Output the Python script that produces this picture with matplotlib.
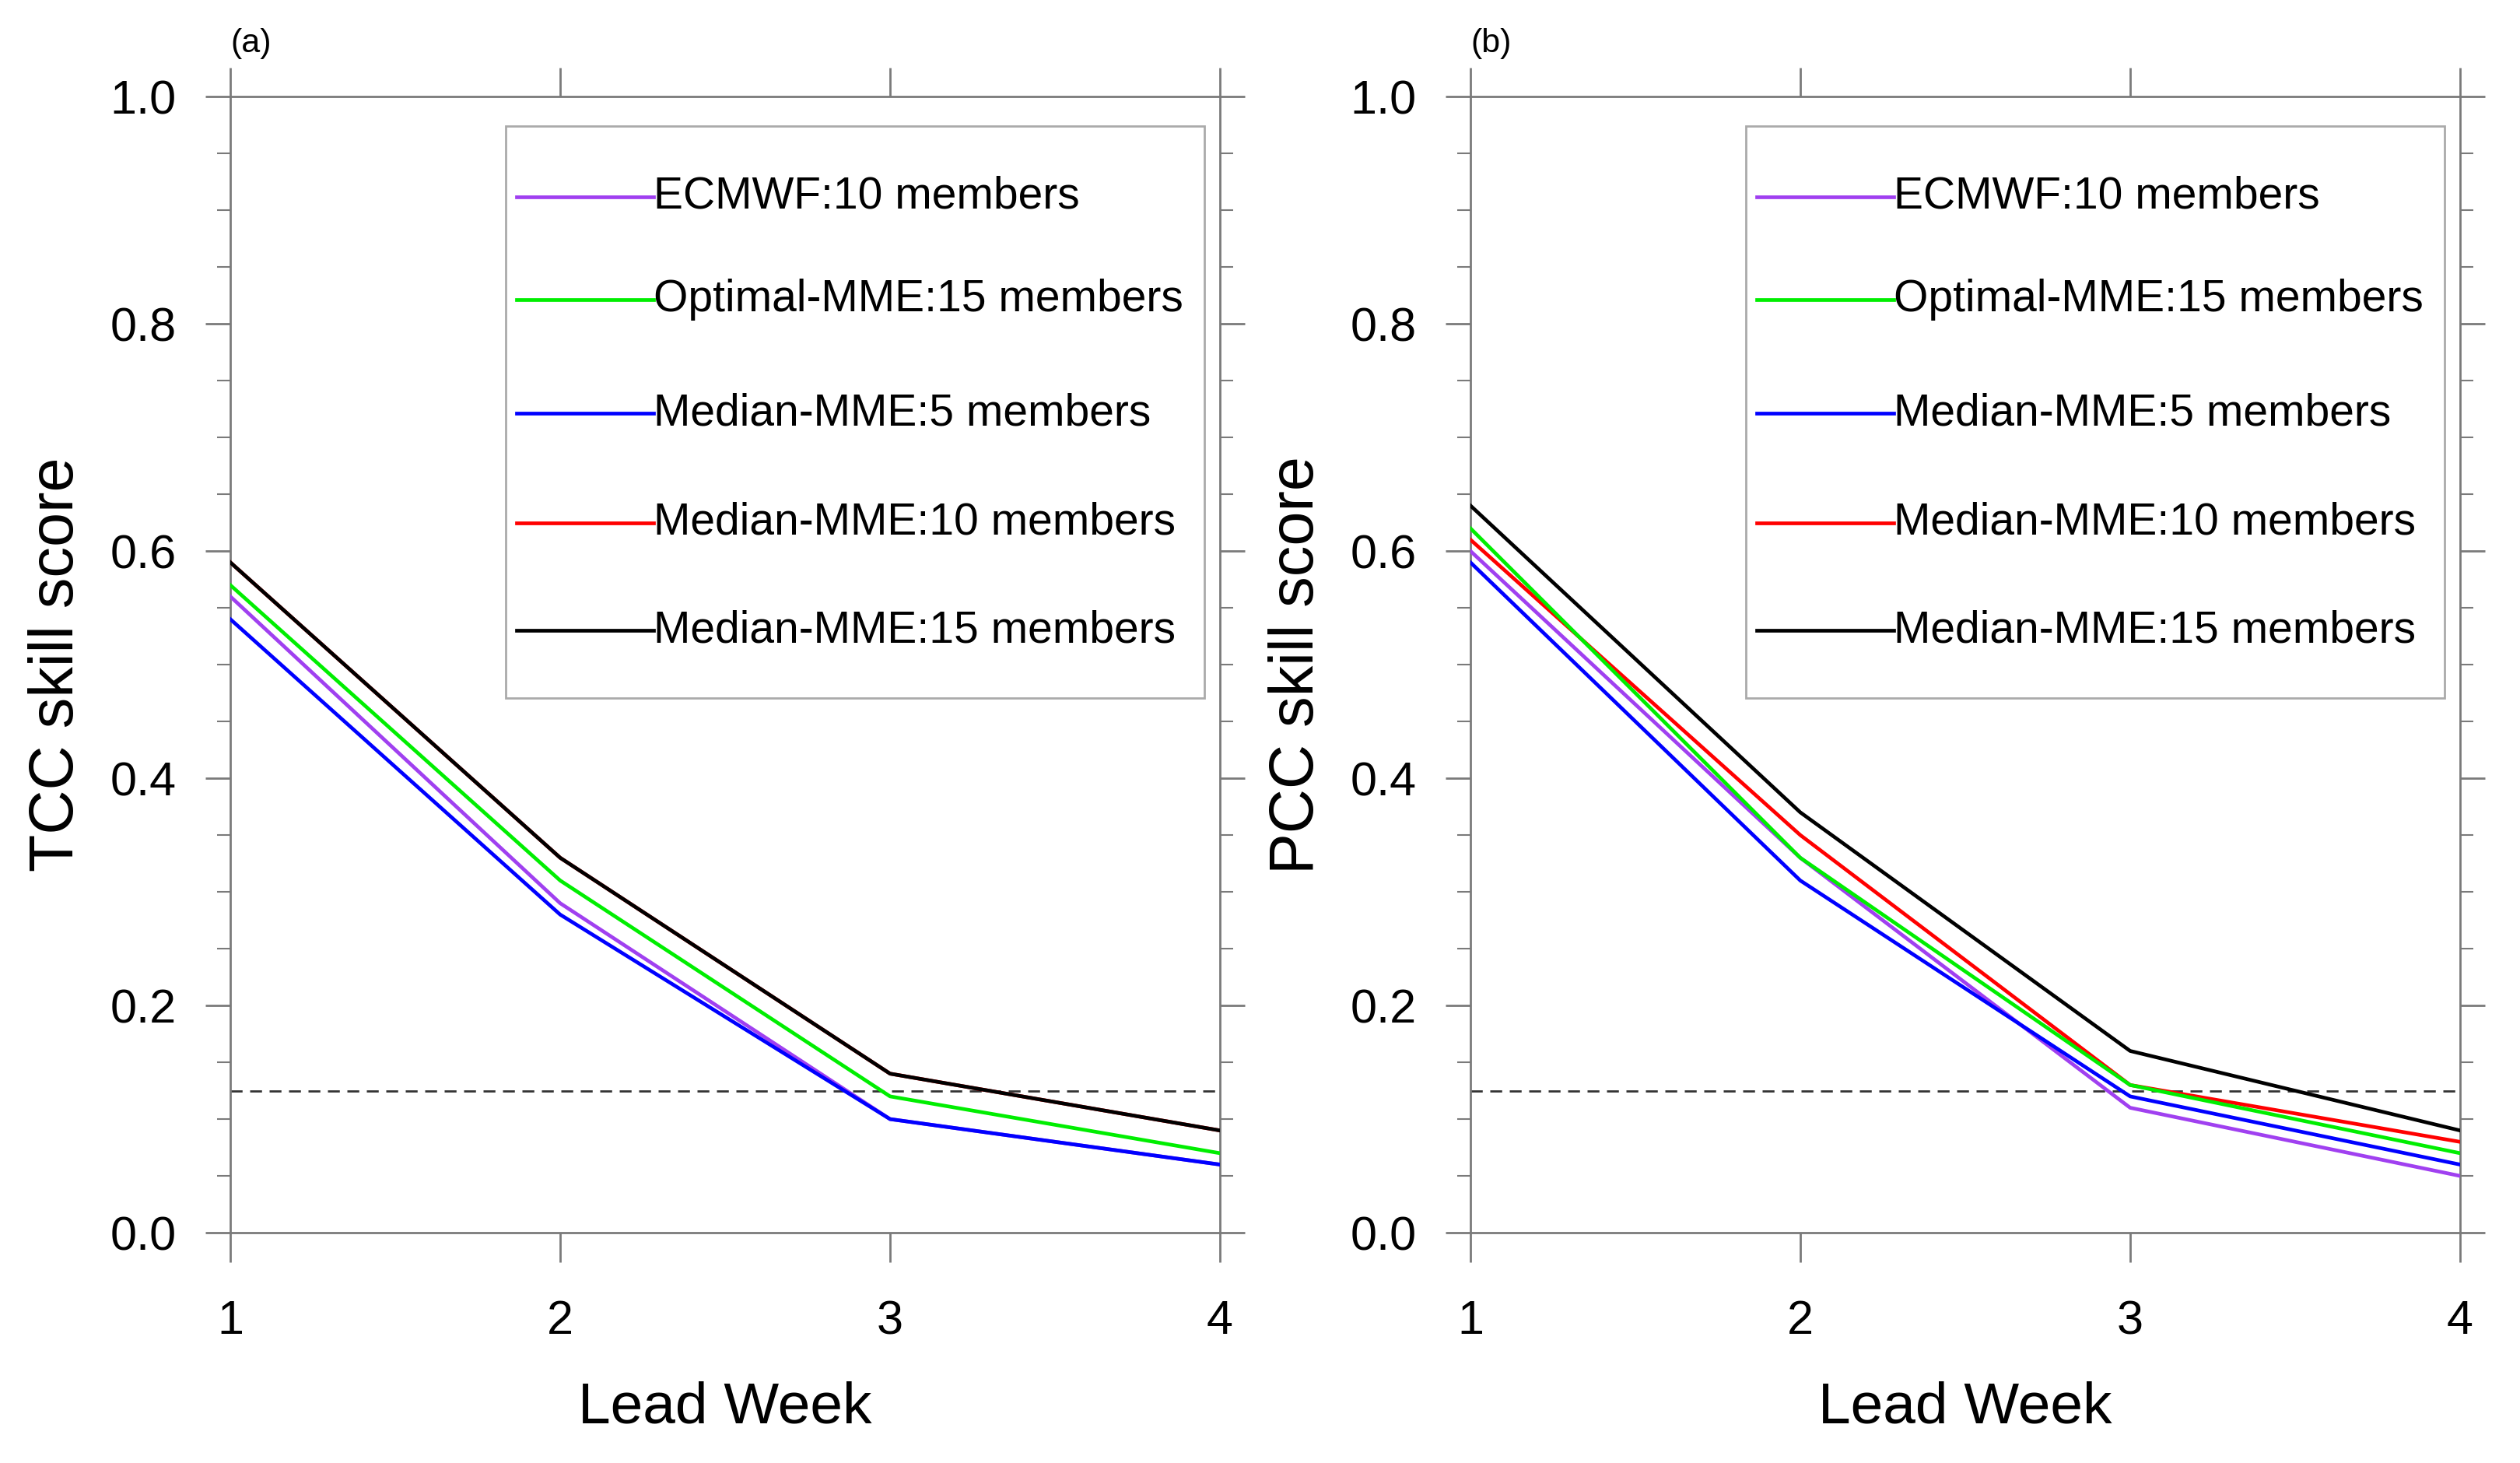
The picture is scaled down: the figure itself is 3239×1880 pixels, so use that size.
import numpy as np
import matplotlib
matplotlib.use("Agg")
import matplotlib.pyplot as plt

# lead weeks and scores
weeks = [1, 2, 3, 4]

tcc_ecmwf = [0.56, 0.29, 0.10, 0.06]
tcc_optimal = [0.57, 0.31, 0.12, 0.07]
tcc_median5 = [0.54, 0.28, 0.10, 0.06]
tcc_median10 = [0.59, 0.33, 0.14, 0.09]
tcc_median15 = [0.59, 0.33, 0.14, 0.09]

pcc_ecmwf = [0.60, 0.33, 0.11, 0.05]
pcc_optimal = [0.62, 0.33, 0.13, 0.07]
pcc_median5 = [0.59, 0.31, 0.12, 0.06]
pcc_median10 = [0.61, 0.35, 0.13, 0.08]
pcc_median15 = [0.64, 0.37, 0.16, 0.09]

threshold = 0.125

labels = ["ECMWF:10 members", "Optimal-MME:15 members", "Median-MME:5 members",
          "Median-MME:10 members", "Median-MME:15 members"]
colors = ["#a040f0", "#00ee00", "#0000ff", "#ff0000", "#000000"]

font = ["Liberation Sans", "DejaVu Sans"]
spine_col = "#7a7a7a"


def draw_panel(ax, series, ylabel, tag):
    # red goes under black so it hides where they are equal, like the original
    order = [0, 2, 3, 1, 4]
    for i in order:
        ax.plot(weeks, series[i], color=colors[i], lw=3.4, zorder=3)
    ax.axhline(threshold, color="#333333", lw=2.0, ls=(0, (5.5, 3.5)), zorder=2)

    ax.set_xlim(1, 4)
    ax.set_ylim(0, 1)
    ax.set_xticks(weeks)
    ax.set_yticks(np.arange(0, 1.01, 0.2))
    ax.set_yticks(np.arange(0, 1.01, 0.05), minor=True)
    ax.set_yticklabels([f"{v:.1f}" for v in np.arange(0, 1.01, 0.2)])

    ax.tick_params(axis="x", which="major", direction="out", length=27, width=2.0,
                   color=spine_col, top=True, labelsize=44, pad=35)
    ax.tick_params(axis="y", which="major", direction="out", length=23, width=2.0,
                   color=spine_col, right=True, labelsize=44, pad=27)
    ax.tick_params(axis="y", which="minor", direction="out", length=12, width=1.5,
                   color=spine_col, right=True)
    for lab in ax.get_xticklabels() + ax.get_yticklabels():
        lab.set_family(font)

    for sp in ax.spines.values():
        sp.set_color(spine_col)
        sp.set_linewidth(2.0)

    ax.set_xlabel("Lead Week", fontsize=54, family=font, labelpad=34)
    ax.set_ylabel(ylabel, fontsize=57, family=font, labelpad=22)
    ax.text(0.0, 1.0466, tag, transform=ax.transAxes, fontsize=31, family=font,
            ha="left", va="center")

    # legend box drawn by hand so the rows sit like the original
    box = plt.Rectangle((0.278, 0.4705), 0.706, 0.5035, transform=ax.transAxes,
                        facecolor="white", edgecolor="#aaaaaa", lw=2.0, zorder=4)
    ax.add_patch(box)
    rows = [0.912, 0.821, 0.721, 0.625, 0.530]
    for lab, col, yy in zip(labels, colors, rows):
        ax.plot([0.289, 0.428], [yy, yy], color=col, lw=3.4, transform=ax.transAxes,
                zorder=5)
        ax.text(0.428, yy, lab, transform=ax.transAxes, fontsize=41, family=font,
                ha="left", va="center", zorder=5)


fig = plt.figure(figsize=(32.39, 18.80), dpi=100)
ax_a = fig.add_axes([0.0914, 0.1574, 0.3927, 0.7766])
ax_b = fig.add_axes([0.5835, 0.1574, 0.3927, 0.7766])

draw_panel(ax_a, [tcc_ecmwf, tcc_optimal, tcc_median5, tcc_median10, tcc_median15],
           "TCC skill score", "(a)")
draw_panel(ax_b, [pcc_ecmwf, pcc_optimal, pcc_median5, pcc_median10, pcc_median15],
           "PCC skill score", "(b)")

fig.savefig("out.png", dpi=100)
